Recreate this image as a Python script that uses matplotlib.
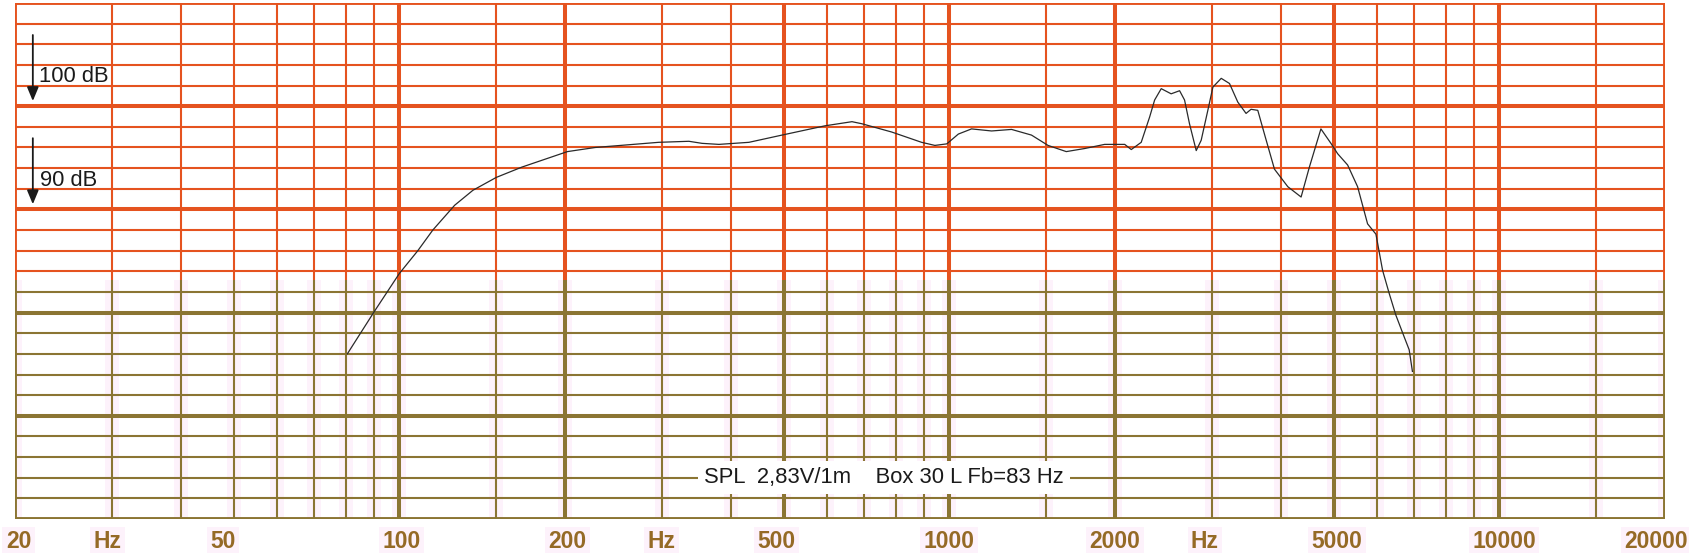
import matplotlib.pyplot as plt
from matplotlib.transforms import blended_transform_factory

# measured response (Hz, dB SPL)
freq = [80.4, 90, 100, 108, 115, 126, 136, 150, 167, 202, 227, 296, 336, 355,
        381, 432, 496, 594, 665, 693, 785, 890, 941, 989, 1038, 1097, 1193,
        1297, 1410, 1511, 1631, 1762, 1915, 2083, 2141, 2232, 2312, 2361,
        2427, 2530, 2621, 2676, 2732, 2810, 2869, 2950, 3013, 3120, 3230,
        3344, 3462, 3535, 3636, 3739, 3899, 4123, 4359, 4513, 4736, 4939,
        5079, 5297, 5522, 5758, 5963, 6131, 6304, 6482, 6711, 6853, 6947]
spl = [76.0, 80.1, 83.8, 86.0, 88.0, 90.4, 91.85, 93.1, 94.1, 95.6, 96.0,
       96.5, 96.6, 96.4, 96.3, 96.5, 97.2, 98.1, 98.5, 98.3, 97.5, 96.5,
       96.2, 96.35, 97.3, 97.8, 97.6, 97.75, 97.2, 96.2, 95.6, 95.9, 96.3,
       96.3, 95.8, 96.5, 98.95, 100.6, 101.7, 101.2, 101.5, 100.6, 98.3,
       95.7, 96.7, 99.6, 101.85, 102.7, 102.2, 100.4, 99.3, 99.7, 99.6,
       97.3, 93.9, 92.2, 91.2, 94.1, 97.8, 96.4, 95.4, 94.3, 92.2, 88.6,
       87.6, 84.1, 81.85, 79.75, 77.65, 76.4, 74.3]

# paper grid
grid_minor_f = [30, 40, 50, 60, 70, 80, 90, 150, 300, 400, 600, 700, 800, 900,
                1500, 3000, 4000, 6000, 7000, 8000, 9000, 15000]
grid_major_f = [100, 200, 500, 1000, 2000, 5000, 10000]
db_lines = list(range(62, 110, 2))

label_text = ["20", "Hz", "50", "100", "200", "Hz", "500", "1000", "2000",
              "Hz", "5000", "10000", "20000"]
label_at = [20.3, 29.5, 47.8, 101, 201.7, 300, 484, 998, 2000, 2915, 5064,
            10190, 19300]

RED = "#E5531F"
OLIVE = "#8B7533"
PINK = "#FDF2FB"
LABEL = "#956A26"
SPLIT = 83.2

fig = plt.figure(figsize=(16.89, 5.53), dpi=100)
ax = fig.add_axes([15 / 1689, 1 - 519 / 553, 1650 / 1689, 516 / 553])
ax.set_xscale("log")
ax.set_xlim(20, 20000)
ax.set_ylim(60, 110)
ax.axis("off")

# faint pink haze in the lower part
for f in grid_minor_f + grid_major_f + [20, 20000]:
    ax.plot([f, f], [60, SPLIT], color=PINK, lw=10, zorder=0,
            solid_capstyle="butt")

for d in db_lines:
    thick = d % 10 == 0
    ax.axhline(d, color=RED if d >= SPLIT else OLIVE,
               lw=2.9 if thick else 1.5, zorder=1)

for f in grid_minor_f + grid_major_f:
    w = 2.9 if f in grid_major_f else 1.5
    ax.plot([f, f], [SPLIT, 110], color=RED, lw=w, zorder=1,
            solid_capstyle="butt")
    ax.plot([f, f], [60, SPLIT], color=OLIVE, lw=w, zorder=1,
            solid_capstyle="butt")

# border
bw = 2.8
ax.plot([20, 20000], [110, 110], color=RED, lw=bw, zorder=2,
        solid_capstyle="projecting")
ax.plot([20, 20000], [60, 60], color=OLIVE, lw=bw, zorder=2,
        solid_capstyle="projecting")
for f in [20, 20000]:
    ax.plot([f, f], [SPLIT, 110], color=RED, lw=bw, zorder=2,
            solid_capstyle="butt")
    ax.plot([f, f], [60, SPLIT], color=OLIVE, lw=bw, zorder=2,
            solid_capstyle="butt")

ax.plot(freq, spl, color="#2a2a2a", lw=0.9, zorder=4)

txt_font = ["Liberation Sans", "DejaVu Sans"]
arrow = dict(arrowstyle="-|>,head_length=0.6,head_width=0.25", lw=1.3,
             color="#1a1a1a", mutation_scale=14, shrinkA=0, shrinkB=0)
ax.annotate("", xy=(21.55, 100.5), xytext=(21.55, 106.9), arrowprops=arrow,
            zorder=5)
ax.annotate("", xy=(21.55, 90.5), xytext=(21.55, 96.9), arrowprops=arrow,
            zorder=5)
ax.text(22.1, 102.9, "100 dB", fontsize=15.8, family=txt_font,
        color="#1a1a1a", va="center", ha="left", zorder=5)
ax.text(22.2, 92.8, "90 dB", fontsize=15.8, family=txt_font,
        color="#1a1a1a", va="center", ha="left", zorder=5)

ax.text(760, 64, "SPL  2,83V/1m    Box 30 L Fb=83 Hz", fontsize=15.8,
        family=txt_font, color="#1a1a1a", ha="center", va="center",
        zorder=5, bbox=dict(boxstyle="square,pad=0.28", fc="white",
                            ec="none"))

tr = blended_transform_factory(ax.transData, fig.transFigure)
for t, f in zip(label_text, label_at):
    fig.text(f, 1 - 542 / 553, t, transform=tr, fontsize=16.5,
             family=txt_font, fontweight="bold", color=LABEL,
             ha="center", va="center",
             bbox=dict(boxstyle="square,pad=0.15", fc=PINK, ec="none"))

fig.savefig("out.png", dpi=100, facecolor="white")
